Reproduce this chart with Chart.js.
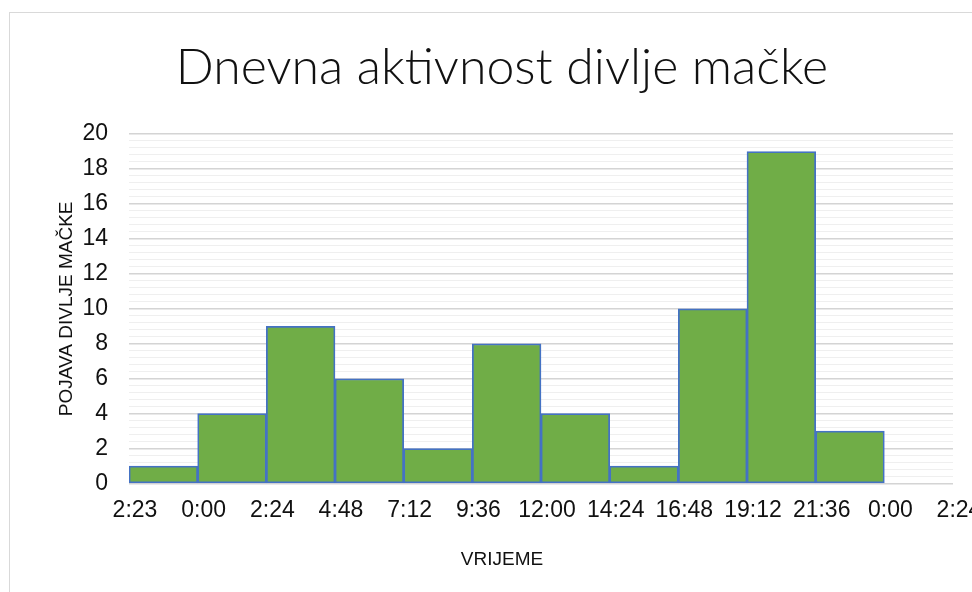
<!DOCTYPE html>
<html lang="hr">
<head>
  <meta charset="UTF-8" />
  <title>Dnevna aktivnost divlje mačke</title>
  <script src="https://cdn.jsdelivr.net/npm/chart.js"></script>
  <style>
    html, body { margin: 0; padding: 0; background: #fff; overflow: hidden; }
    .frame {
      position: absolute; left: 9px; top: 12px;
      width: 978px; height: 590px;
      border: 1px solid #d9d9d9;
    }
  </style>
</head>
<body>
  <div class="frame">
    <canvas id="histChart"></canvas>
  </div>

  <script>
    // bins between tick positions
    const tickLabels = ['2:23', '0:00', '2:24', '4:48', '7:12', '9:36', '12:00', '14:24', '16:48', '19:12', '21:36', '0:00', '2:24'];
    const counts = [1, 4, 9, 6, 2, 8, 4, 1, 10, 19, 3];
    const yTicks = { min: 0, max: 20, major: 2, minor: 0.4 };

    const isMajor = v => Math.abs(v / yTicks.major - Math.round(v / yTicks.major)) < 1e-6;

    Chart.defaults.font.family = '"Liberation Sans", Arial, sans-serif';
    Chart.defaults.color = '#111';

    new Chart(document.getElementById('histChart'), {
      type: 'bar',
      data: {
        datasets: [{
          data: counts.map((c, i) => ({ x: i + 0.5, y: c })),
          backgroundColor: '#70AD47',
          borderColor: '#4472C4',
          borderWidth: 1.75,
          borderSkipped: false,
          barPercentage: 1,
          categoryPercentage: 1
        }]
      },
      options: {
        responsive: true,
        maintainAspectRatio: false,
        animation: false,
        layout: { padding: { left: 41, right: 35, top: 0, bottom: 0 } },
        plugins: {
          legend: { display: false },
          tooltip: { enabled: false },
          title: {
            display: true,
            text: 'Dnevna aktivnost divlje mačke',
            color: '#111',
            font: { family: 'Lato, "Open Sans", sans-serif', size: 50, weight: '300' },
            padding: { top: 25, bottom: 36 }
          },
          subtitle: {
            display: true,
            position: 'bottom',
            text: 'VRIJEME',
            color: '#111',
            font: { size: 19 },
            padding: { top: 19, bottom: 32 }
          }
        },
        scales: {
          x: {
            type: 'linear',
            min: 0,
            max: 12,
            offset: false,
            grid: { display: false },
            border: { display: false },
            ticks: {
              stepSize: 1,
              autoSkip: false,
              maxRotation: 0,
              padding: 5,
              labelOffset: 6,
              font: { size: 23 },
              callback: v => tickLabels[v]
            }
          },
          y: {
            min: yTicks.min,
            max: yTicks.max,
            border: { display: false },
            afterFit: s => { s.width = 78; },
            grid: {
              drawTicks: false,
              color: ctx => isMajor(ctx.tick.value) ? '#d4d4d4' : '#efefef',
              lineWidth: ctx => isMajor(ctx.tick.value) ? 1.5 : 1
            },
            ticks: {
              stepSize: yTicks.minor,
              autoSkip: false,
              padding: 21,
              font: { size: 23 },
              callback: v => isMajor(v) ? String(Math.round(v)) : ''
            },
            title: {
              display: true,
              text: 'POJAVA DIVLJE MAČKE',
              color: '#111',
              font: { size: 19 }
            }
          }
        }
      }
    });
  </script>
</body>
</html>
